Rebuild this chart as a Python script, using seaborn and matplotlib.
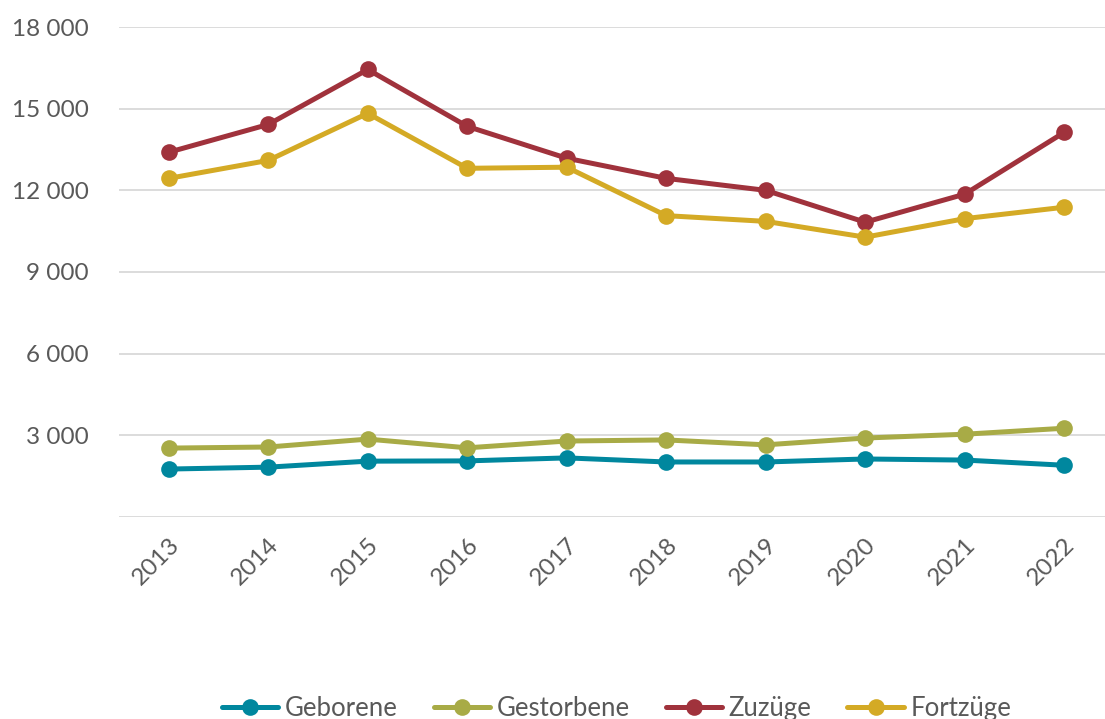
import matplotlib
matplotlib.use("Agg")
import matplotlib.pyplot as plt
import seaborn as sns
import pandas as pd
from matplotlib.ticker import FuncFormatter, MultipleLocator

years = [2013, 2014, 2015, 2016, 2017, 2018, 2019, 2020, 2021, 2022]
geborene = [1760, 1830, 2050, 2060, 2170, 2020, 2020, 2130, 2090, 1900]
gestorbene = [2530, 2570, 2860, 2540, 2790, 2830, 2650, 2900, 3040, 3260]
zuzuege = [13400, 14420, 16440, 14350, 13180, 12440, 12000, 10830, 11860, 14130]
fortzuege = [12440, 13100, 14830, 12810, 12850, 11070, 10860, 10280, 10960, 11380]
series_names = ["Geborene", "Gestorbene", "Zuzüge", "Fortzüge"]
colors = ["#00879E", "#A8AB46", "#A0323C", "#D4AA25"]

rows = []
for name, vals in zip(series_names, [geborene, gestorbene, zuzuege, fortzuege]):
    for i, (y, v) in enumerate(zip(years, vals)):
        rows.append({"pos": i, "Jahr": str(y), "Wert": v, "Reihe": name})
df = pd.DataFrame(rows)

sns.set_theme(style="white")
plt.rcParams["font.family"] = ["Lato", "DejaVu Sans"]

fig = plt.figure(figsize=(11.05, 7.19), dpi=100)
ax = fig.add_axes([0.1077, 0.281, 0.9004, 0.6814])

sns.lineplot(data=df, x="pos", y="Wert", hue="Reihe", hue_order=series_names,
             palette=colors, marker="o", markersize=12, linewidth=3.6,
             markeredgewidth=0, ax=ax, legend=True)

ax.set_ylim(0, 18000)
ax.set_xlim(-0.5, 9.5)
ax.yaxis.set_major_locator(MultipleLocator(3000))
ax.yaxis.set_major_formatter(FuncFormatter(lambda v, p: "" if v == 0 else f"{int(v):,}".replace(",", " ")))
ax.grid(axis="y", color="#D9D9D9", linewidth=1.3)
ax.set_axisbelow(True)
for s in ax.spines.values():
    s.set_visible(False)
ax.set_xticks(range(len(years)))
ax.set_xticklabels([str(y) for y in years], rotation=45, ha="right", rotation_mode="anchor")
ax.tick_params(axis="both", length=0, labelsize=17.5, colors="#595959")
ax.tick_params(axis="y", pad=22)
ax.tick_params(axis="x", pad=12)
ax.set_xlabel("")
ax.set_ylabel("")

handles, labels = ax.get_legend_handles_labels()
ax.legend(handles, labels, loc="center", bbox_to_anchor=(0.5, -0.39), ncol=4,
          frameon=False, fontsize=18.5, handlelength=2.2, handletextpad=0.25,
          columnspacing=1.4, labelcolor="#595959")

fig.savefig("out.png", dpi=100)
